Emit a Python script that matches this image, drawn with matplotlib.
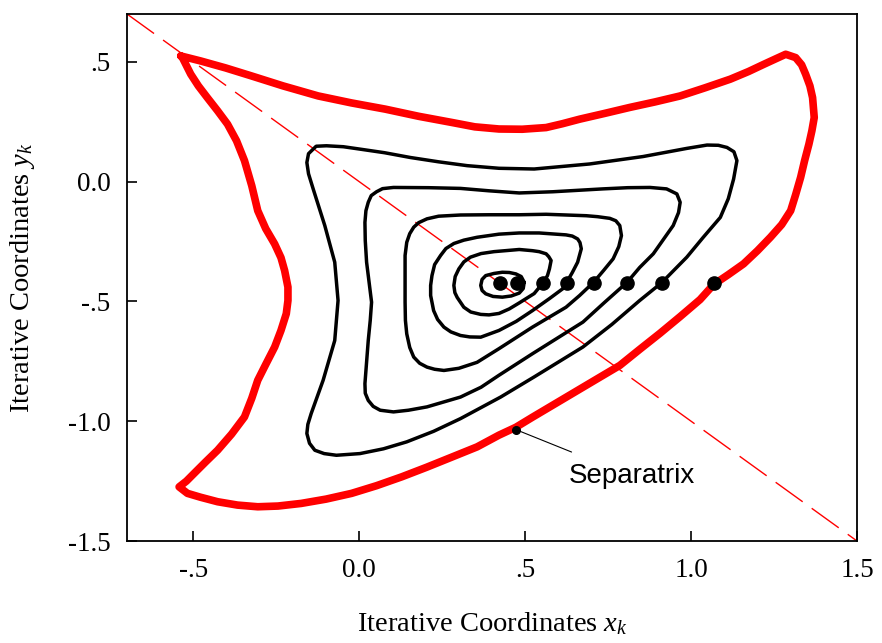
import matplotlib
matplotlib.use("Agg")
import matplotlib.pyplot as plt

plt.rcParams["font.family"] = ["Liberation Serif", "DejaVu Serif"]
plt.rcParams["mathtext.fontset"] = "custom"
plt.rcParams["mathtext.rm"] = "Liberation Serif"
plt.rcParams["mathtext.it"] = "Liberation Serif:italic"

# Invariant curves of the iterated map (x_k, y_k), one per starting point
c1_x = [0.497, 0.488, 0.472, 0.452, 0.431, 0.406, 0.381, 0.370, 0.366, 0.370,
        0.381, 0.403, 0.431, 0.458, 0.482, 0.494]
c1_y = [-0.420, -0.396, -0.385, -0.379, -0.378, -0.383, -0.392, -0.408, -0.433, -0.454,
        -0.468, -0.479, -0.482, -0.477, -0.465, -0.446]

c2_x = [0.555, 0.567, 0.573, 0.578, 0.571, 0.563, 0.542, 0.522, 0.482, 0.406,
        0.367, 0.335, 0.315, 0.300, 0.289, 0.285, 0.288, 0.295, 0.315, 0.336,
        0.366, 0.391, 0.421, 0.452, 0.482, 0.527]
c2_y = [-0.420, -0.392, -0.364, -0.329, -0.313, -0.301, -0.292, -0.288, -0.283, -0.292,
        -0.300, -0.315, -0.335, -0.364, -0.396, -0.433, -0.463, -0.483, -0.524, -0.544,
        -0.554, -0.556, -0.550, -0.531, -0.506, -0.467]

c3_x = [0.625, 0.642, 0.658, 0.669, 0.665, 0.658, 0.642, 0.623, 0.542, 0.482,
        0.421, 0.355, 0.315, 0.285, 0.261, 0.245, 0.227, 0.219, 0.215, 0.215,
        0.224, 0.236, 0.255, 0.276, 0.305, 0.333, 0.366, 0.421, 0.473, 0.522,
        0.573, 0.613]
c3_y = [-0.420, -0.379, -0.336, -0.280, -0.254, -0.239, -0.227, -0.222, -0.214, -0.214,
        -0.219, -0.232, -0.244, -0.258, -0.279, -0.308, -0.346, -0.392, -0.433, -0.475,
        -0.538, -0.575, -0.607, -0.627, -0.642, -0.648, -0.649, -0.621, -0.583, -0.538,
        -0.488, -0.447]

c4_x = [0.706, 0.736, 0.765, 0.782, 0.790, 0.785, 0.773, 0.755, 0.718, 0.684,
        0.563, 0.482, 0.391, 0.305, 0.239, 0.204, 0.179, 0.164, 0.152, 0.143,
        0.138, 0.138, 0.138, 0.139, 0.143, 0.152, 0.164, 0.182, 0.204, 0.227,
        0.255, 0.300, 0.355, 0.421, 0.522, 0.623, 0.664]
c4_y = [-0.420, -0.371, -0.322, -0.271, -0.225, -0.183, -0.163, -0.153, -0.146, -0.142,
        -0.136, -0.138, -0.138, -0.139, -0.144, -0.155, -0.171, -0.190, -0.217, -0.253,
        -0.308, -0.364, -0.503, -0.579, -0.635, -0.692, -0.732, -0.758, -0.774, -0.783,
        -0.788, -0.779, -0.754, -0.697, -0.607, -0.524, -0.475]

c5_x = [0.807, 0.845, 0.886, 0.946, 0.962, 0.967, 0.957, 0.926, 0.876, 0.809,
        0.734, 0.583, 0.482, 0.391, 0.305, 0.209, 0.103, 0.070, 0.052, 0.036,
        0.027, 0.020, 0.017, 0.018, 0.022, 0.037, 0.033, 0.027, 0.017, 0.018,
        0.027, 0.042, 0.063, 0.103, 0.148, 0.204, 0.305, 0.367, 0.421, 0.522,
        0.674, 0.739]
c5_y = [-0.420, -0.358, -0.301, -0.183, -0.129, -0.086, -0.051, -0.030, -0.024, -0.025,
        -0.030, -0.042, -0.047, -0.038, -0.028, -0.025, -0.024, -0.029, -0.042, -0.058,
        -0.086, -0.121, -0.170, -0.246, -0.336, -0.503, -0.579, -0.663, -0.843, -0.883,
        -0.913, -0.938, -0.954, -0.961, -0.954, -0.940, -0.899, -0.858, -0.808, -0.718,
        -0.586, -0.504]

c6_x = [0.911, 0.987, 1.036, 1.088, 1.112, 1.128, 1.138, 1.129, 1.108, 1.082,
        1.048, 0.987, 0.855, 0.694, 0.527, 0.421, 0.325, 0.239, 0.154, 0.076,
        0.002, -0.048, -0.099, -0.130, -0.153, -0.158, -0.153, -0.139, -0.104, -0.074,
        -0.064, -0.074, -0.109, -0.145, -0.155, -0.158, -0.150, -0.134, -0.106, -0.069,
        0.002, 0.073, 0.143, 0.224, 0.305, 0.426, 0.527, 0.674, 0.761, 0.845]
c6_y = [-0.422, -0.315, -0.233, -0.149, -0.071, 0.011, 0.088, 0.125, 0.143, 0.152,
        0.153, 0.139, 0.105, 0.074, 0.053, 0.056, 0.067, 0.083, 0.101, 0.121,
        0.136, 0.146, 0.150, 0.148, 0.117, 0.080, 0.033, -0.030, -0.183, -0.336,
        -0.496, -0.663, -0.829, -0.968, -1.013, -1.051, -1.092, -1.121, -1.135, -1.142,
        -1.135, -1.115, -1.086, -1.042, -0.989, -0.899, -0.815, -0.690, -0.596, -0.496]

# Separatrix bounding the region of stable motion
sep_x = [-0.538, -0.478, -0.403, -0.326, -0.230, -0.124, -0.024, 0.078, 0.179, 0.280,
         0.348, 0.421, 0.491, 0.563, 0.612, 0.664, 0.739, 0.815, 0.891, 0.967,
         1.042, 1.118, 1.173, 1.219, 1.255, 1.285, 1.315, 1.333, 1.345, 1.358,
         1.366, 1.371, 1.364, 1.355, 1.342, 1.330, 1.315, 1.300, 1.273, 1.239,
         1.200, 1.158, 1.112, 1.068, 1.027, 0.967, 0.906, 0.845, 0.785, 0.724,
         0.623, 0.522, 0.472, 0.421, 0.355, 0.280, 0.203, 0.128, 0.052, -0.023,
         -0.100, -0.175, -0.245, -0.306, -0.367, -0.427, -0.479, -0.518, -0.543, -0.521,
         -0.498, -0.464, -0.427, -0.385, -0.346, -0.324, -0.306, -0.282, -0.255, -0.236,
         -0.220, -0.215, -0.215, -0.225, -0.236, -0.255, -0.282, -0.306, -0.324, -0.346,
         -0.370, -0.397, -0.427, -0.458, -0.485, -0.508, -0.533]
sep_y = [0.525, 0.504, 0.475, 0.442, 0.400, 0.358, 0.329, 0.303, 0.273, 0.247,
         0.229, 0.220, 0.219, 0.226, 0.242, 0.261, 0.285, 0.310, 0.333, 0.358,
         0.392, 0.428, 0.460, 0.490, 0.513, 0.532, 0.518, 0.488, 0.449, 0.400,
         0.351, 0.268, 0.213, 0.157, 0.088, 0.018, -0.054, -0.121, -0.179, -0.232,
         -0.288, -0.343, -0.388, -0.429, -0.492, -0.563, -0.633, -0.700, -0.767, -0.817,
         -0.900, -0.983, -1.025, -1.058, -1.107, -1.149, -1.192, -1.232, -1.269, -1.301,
         -1.325, -1.343, -1.354, -1.357, -1.350, -1.336, -1.317, -1.301, -1.274, -1.250,
         -1.218, -1.171, -1.121, -1.054, -0.982, -0.904, -0.829, -0.763, -0.690, -0.621,
         -0.551, -0.496, -0.440, -0.371, -0.317, -0.260, -0.196, -0.121, -0.017, 0.088,
         0.171, 0.240, 0.296, 0.351, 0.400, 0.449, 0.518]

# Fixed point and starting points of the orbits
fixed_x, fixed_y = 0.423, -0.422
start_x = [0.474, 0.555, 0.625, 0.706, 0.807, 0.911, 1.068]
start_y = [-0.422] * len(start_x)

# Labelled point on the separatrix
note_x, note_y = 0.472, -1.035
note_text = "Separatrix"
note_text_x, note_text_y = 0.82, -1.229

x_ticks = [-0.5, 0.0, 0.5, 1.0, 1.5]
x_tick_labels = ["-.5", "0.0", ".5", "1.0", "1.5"]
y_ticks = [0.5, 0.0, -0.5, -1.0, -1.5]
y_tick_labels = [".5", "0.0", "-.5", "-1.0", "-1.5"]

fig = plt.figure(figsize=(8.82, 6.43), dpi=100)
ax = fig.add_axes([0.144, 0.1586, 0.8277, 0.8196])

# symmetry line y = -x
ax.plot([-0.7, 1.5], [0.7, -1.5], color="red", lw=1.0, linestyle=(0, (24, 8)), zorder=1)

ax.plot(sep_x + sep_x[:1], sep_y + sep_y[:1], color="#ff0000", lw=5.5,
        solid_joinstyle="round", solid_capstyle="round", zorder=2)

for cx, cy in [(c1_x, c1_y), (c2_x, c2_y), (c3_x, c3_y), (c4_x, c4_y), (c5_x, c5_y), (c6_x, c6_y)]:
    ax.plot(cx + cx[:1], cy + cy[:1], color="black", lw=2.5,
            solid_joinstyle="round", solid_capstyle="round", zorder=3)

ax.plot(start_x, start_y, "o", color="black", ms=9.5, zorder=4)
ax.plot([fixed_x], [fixed_y], "o", color="black", ms=9.5, zorder=4)

ax.annotate(note_text, xy=(note_x, note_y), xytext=(note_text_x, note_text_y),
            fontsize=20, family=["Liberation Sans", "DejaVu Sans"],
            ha="center", va="center",
            arrowprops=dict(arrowstyle="-", color="black", lw=0.8, shrinkA=16, shrinkB=0))
ax.plot([note_x], [note_y], "o", color="black", ms=5.5, zorder=5)

ax.set_xlim(-0.7, 1.5)
ax.set_ylim(-1.5, 0.7)
ax.set_xticks(x_ticks)
ax.set_xticklabels(x_tick_labels)
ax.set_yticks(y_ticks)
ax.set_yticklabels(y_tick_labels)
ax.tick_params(direction="in", length=7, width=1.2, labelsize=19.5, pad=12,
               top=False, right=False)
for s in ax.spines.values():
    s.set_linewidth(1.3)

ax.set_xlabel("Iterative Coordinates $x_k$", fontsize=20.5, labelpad=20)
ax.set_ylabel("Iterative Coordinates $y_k$", fontsize=20.5, labelpad=22)

fig.savefig("out.png", dpi=100)
